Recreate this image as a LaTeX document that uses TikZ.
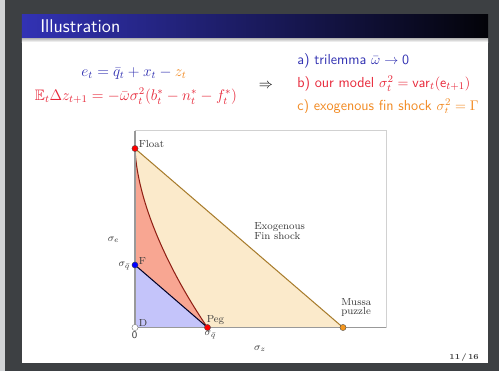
\documentclass[tikz,border=0pt]{standalone}
\usepackage{amssymb}
\definecolor{darkbg}{HTML}{3D4043}
\definecolor{stripc}{HTML}{D2D4D6}
\definecolor{titleblue}{HTML}{3232B4}
\definecolor{titleblack}{HTML}{030308}
\definecolor{bluec}{HTML}{3333B3}
\definecolor{redc}{HTML}{E8283A}
\definecolor{orangec}{HTML}{F28A22}
\definecolor{beige}{HTML}{FBEACB}
\definecolor{beigeline}{HTML}{A87C2C}
\definecolor{salmon}{HTML}{F8A692}
\definecolor{curvec}{HTML}{8E1F14}
\definecolor{lblue}{HTML}{C4C4FA}
\definecolor{labc}{HTML}{3A3A3A}
\tikzset{
  dot/.style={circle, inner sep=0pt, minimum size=4.8pt, draw=black!70, line width=0.3pt},
  lab/.style={text=labc, font=\fontsize{8}{7.5}\selectfont, inner sep=0pt},
  bodyt/.style={font=\sffamily\fontsize{11.3}{13}\selectfont, inner sep=0pt},
  eqt/.style={font=\sffamily\fontsize{11.8}{13}\selectfont, inner sep=0pt}
}
\begin{document}
\begin{tikzpicture}[x=0.78pt,y=-0.78pt]
\useasboundingbox (0,0) rectangle (499,371);
% screen background
\fill[darkbg] (0,0) rectangle (499,371);
\fill[stripc] (0,0) rectangle (5,371);
\fill[white] (22,14) rectangle (488,363);
% title bar
\shade[left color=titleblue, right color=titleblack] (22,14) rectangle (488,38);
\shade[top color=black!30, bottom color=white] (22,38) rectangle (488,42);
\node[anchor=base west, text=white, font=\sffamily\fontsize{14.4}{16}\selectfont, inner sep=0pt] (title) at (40,32) {Illustration};
% formulas
\node[eqt, anchor=base, text=bluec] (eq1) at (134,76) {$e_t=\bar q_t+x_t-{\color{orangec}z_t}$};
\node[eqt, anchor=base, text=redc] (eq2) at (136,100.5) {$\mathbb{E}_t\Delta z_{t+1}=-\bar\omega\sigma_t^2(b_t^*-n_t^*-f_t^*)$};
\node[bodyt, anchor=base] (impl) at (266,88) {$\Rightarrow$};
\node[bodyt, anchor=base west, text=bluec] (la) at (297,64) {a) trilemma $\bar\omega\to\mathsf{0}$};
\node[bodyt, anchor=base west, text=redc] (lb) at (297,87.5) {b) our model $\sigma_t^2=\mathsf{var}_t(\mathsf{e}_{t+1})$};
\begin{scope}
\clip (280,95) rectangle (488,112.5);
\node[bodyt, anchor=base west, text=orangec] (lc) at (297,110.5) {c) exogenous fin shock $\sigma_t^2=\Gamma$};
\end{scope}
% plot frame
\coordinate (O) at (135,327.5);
\coordinate (TL) at (135,130.5);
\coordinate (BR) at (386,327.5);
\draw[black!18, line width=0.6pt] (TL) -- (386,130.5) -- (BR);
\coordinate (pFloat) at (135,148.5);
\coordinate (pF) at (135,265);
\coordinate (pPeg) at (207.5,327.5);
\coordinate (pMussa) at (343,327.5);
% regions
\fill[beige] (pFloat) -- (pMussa) -- (O) -- cycle;
\fill[salmon] (pFloat) .. controls (138,215) and (183,292) .. (pPeg) -- (pF) -- cycle;
\fill[lblue] (pF) -- (pPeg) -- (O) -- cycle;
\draw[beigeline, line width=0.8pt] (pFloat) -- (pMussa);
\draw[curvec, line width=0.8pt] (pFloat) .. controls (138,215) and (183,292) .. (pPeg);
\draw[black!85!blue, line width=0.8pt] (pF) -- (pPeg);
\draw[black!40, line width=1pt] (TL) -- (O) -- (BR);
% dots
\node[dot, fill=red] (Float) at (pFloat) {};
\node[dot, fill=blue] (F) at (pF) {};
\node[dot, fill=red] (Peg) at (pPeg) {};
\node[dot, fill=white, draw=black!55] (D) at (O) {};
\node[dot, fill=orangec!90!yellow] (Mussa) at (pMussa) {};
% labels
\node[lab, anchor=base west] (tFloat) at (138.5,147) {Float};
\node[lab, anchor=base west] (tF) at (138.5,264) {F};
\node[lab, anchor=base west] (tD) at (138.5,326) {D};
\node[lab, anchor=base west] (tPeg) at (206.5,322.5) {Peg};
\node[lab, anchor=base west, align=left] (tExo) at (254,239.3) {Exogenous\\Fin shock};
\node[lab, anchor=base west, align=left, font=\fontsize{8}{6.6}\selectfont] (tMussa) at (341,314) {Mussa\\puzzle};
\node[lab] (tse) at (113.5,239.5) {$\sigma_e$};
\node[lab] (tsqF) at (124.5,266) {$\sigma_{\bar q}$};
\node[lab] (tsqP) at (210.5,335) {$\sigma_{\bar q}$};
\node[lab] (tsz) at (260,348.5) {$\sigma_z$};
\node[lab, font=\sffamily\fontsize{8}{8}\selectfont] (t0) at (134.5,335.5) {0};
\node[lab, anchor=base east, font=\fontsize{6}{7}\selectfont\bfseries] (page) at (479,359.5) {11\,/\,16};
\end{tikzpicture}
\end{document}
